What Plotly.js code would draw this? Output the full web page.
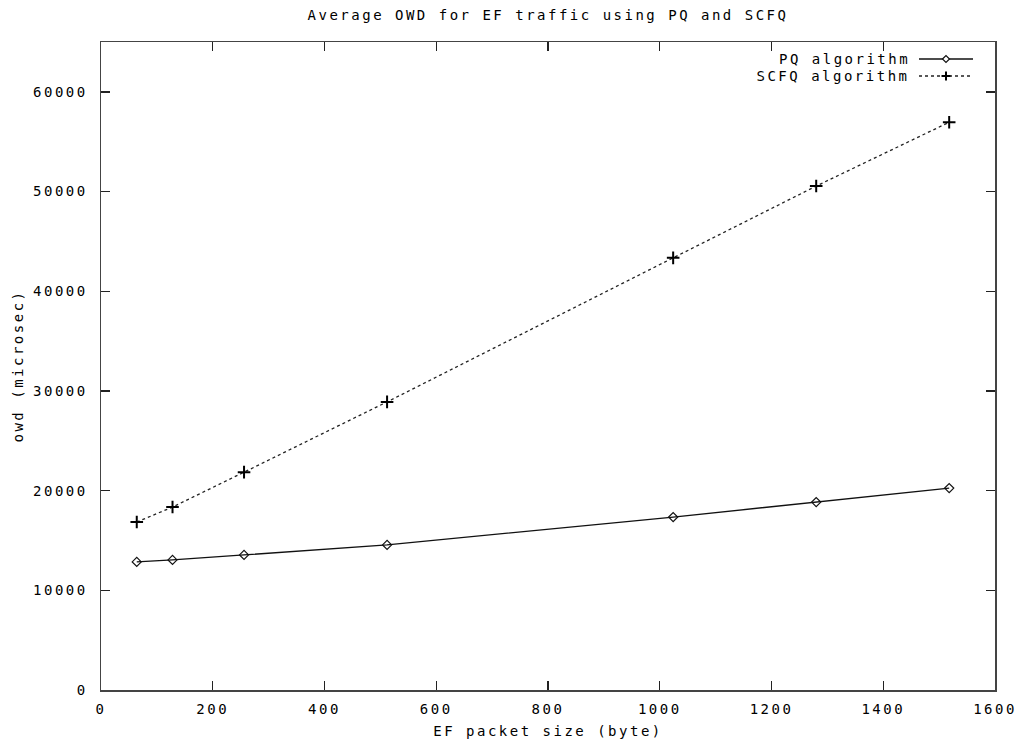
<!DOCTYPE html>
<html>
<head>
<meta charset="utf-8">
<script src="https://cdn.plot.ly/plotly-3.0.1.min.js"></script>
<style>
  html, body { margin: 0; padding: 0; background: #fff; }
  #chart text { letter-spacing: 2.5px; }
</style>
</head>
<body>
<div id="chart" style="width:1022px;height:747px;"></div>
<script>
// Data
const packetSizes = [64, 128, 256, 512, 1024, 1280, 1518];
const pqOwd = [12850, 13050, 13550, 14550, 17350, 18850, 20250];
const scfqOwd = [16850, 18350, 21850, 28900, 43350, 50550, 56950];
const seriesNames = ["PQ algorithm", "SCFQ algorithm"];
const chartTitle = "Average OWD for EF traffic using PQ and SCFQ";
const xTitle = "EF packet size (byte)";
const yTitle = "owd (microsec)";

const FONT = "DejaVu Sans Mono, Liberation Mono, monospace";
const W = 1022, H = 747;
const M = {l: 101, r: 27, t: 42, b: 57};
const PW = W - M.l - M.r, PH = H - M.t - M.b;
// helpers converting pixel positions into paper coordinates (for the legend decoration)
const px = x => (x - M.l) / PW;
const py = y => (H - M.b - y) / PH;

const traces = [
  {
    x: packetSizes, y: pqOwd, name: seriesNames[0], type: "scatter", mode: "lines+markers",
    line: {color: "#111", width: 1.3},
    marker: {symbol: "diamond-open", size: 7, color: "#111", line: {width: 1.2, color: "#111"}},
    showlegend: false, hoverinfo: "skip"
  },
  {
    x: packetSizes, y: scfqOwd, name: seriesNames[1], type: "scatter", mode: "lines+markers",
    line: {color: "#222", width: 1.3, dash: "dot"},
    marker: {symbol: "cross-thin-open", size: 9, color: "#000", line: {width: 2, color: "#000"}},
    showlegend: false, hoverinfo: "skip"
  }
];

// custom legend: text right-aligned, sample to the right
const legRows = [59, 76];
const textCenters = [844, 833];
const sampleL = 919, sampleR = 973, markX = 946;
const shapes = [
  {type: "line", xref: "paper", yref: "paper", x0: px(sampleL), x1: px(sampleR), y0: py(legRows[0]), y1: py(legRows[0]),
   line: {color: "#111", width: 1.3}},
  {type: "path", xref: "paper", yref: "paper",
   path: `M ${px(markX - 3.5)} ${py(legRows[0])} L ${px(markX)} ${py(legRows[0] - 3.5)} L ${px(markX + 3.5)} ${py(legRows[0])} L ${px(markX)} ${py(legRows[0] + 3.5)} Z`,
   line: {color: "#111", width: 1.2}, fillcolor: "#fff"},
  {type: "line", xref: "paper", yref: "paper", x0: px(sampleL), x1: px(sampleR), y0: py(legRows[1]), y1: py(legRows[1]),
   line: {color: "#222", width: 1.3, dash: "dot"}},
  {type: "line", xref: "paper", yref: "paper", x0: px(markX - 4.5), x1: px(markX + 4.5), y0: py(legRows[1]), y1: py(legRows[1]),
   line: {color: "#000", width: 2}},
  {type: "line", xref: "paper", yref: "paper", x0: px(markX), x1: px(markX), y0: py(legRows[1] - 4.5), y1: py(legRows[1] + 4.5),
   line: {color: "#000", width: 2}}
];

const annotations = [
  {text: seriesNames[0], xref: "paper", yref: "paper", x: px(textCenters[0]), y: py(legRows[0]), xanchor: "center", yanchor: "middle",
   showarrow: false, font: {family: FONT, size: 14, color: "#000"}},
  {text: seriesNames[1], xref: "paper", yref: "paper", x: px(textCenters[1]), y: py(legRows[1]), xanchor: "center", yanchor: "middle",
   showarrow: false, font: {family: FONT, size: 14, color: "#000"}},
  {text: yTitle, xref: "paper", yref: "paper", x: px(18), y: 0.5, xanchor: "center", yanchor: "middle",
   textangle: -90, showarrow: false, font: {family: FONT, size: 14, color: "#000"}}
];

const axisCommon = {
  showgrid: false, zeroline: false, showline: true, linecolor: "#444", linewidth: 1.5,
  mirror: "ticks", ticks: "inside", ticklen: 9, tickwidth: 1.3, tickcolor: "#222",
  tickfont: {family: FONT, size: 14, color: "#000"}
};

const layout = {
  width: W, height: H,
  margin: M,
  paper_bgcolor: "#fff", plot_bgcolor: "#fff",
  title: {text: chartTitle, font: {family: FONT, size: 14, color: "#000"},
          x: 0.5, xref: "paper", xanchor: "center", y: 1 - 15 / H, yref: "container", yanchor: "middle"},
  xaxis: Object.assign({}, axisCommon, {
    range: [0, 1600], dtick: 200, tick0: 0, ticklabelstandoff: 6, tickformat: "d",
    title: {text: xTitle, font: {family: FONT, size: 14, color: "#000"}, standoff: 10}
  }),
  yaxis: Object.assign({}, axisCommon, {
    range: [0, 65000], dtick: 10000, tick0: 0, ticklabelstandoff: 9, tickformat: "d"
  }),
  shapes: shapes,
  annotations: annotations,
  showlegend: false
};

Plotly.newPlot("chart", traces, layout, {staticPlot: true, displayModeBar: false});
</script>
</body>
</html>
